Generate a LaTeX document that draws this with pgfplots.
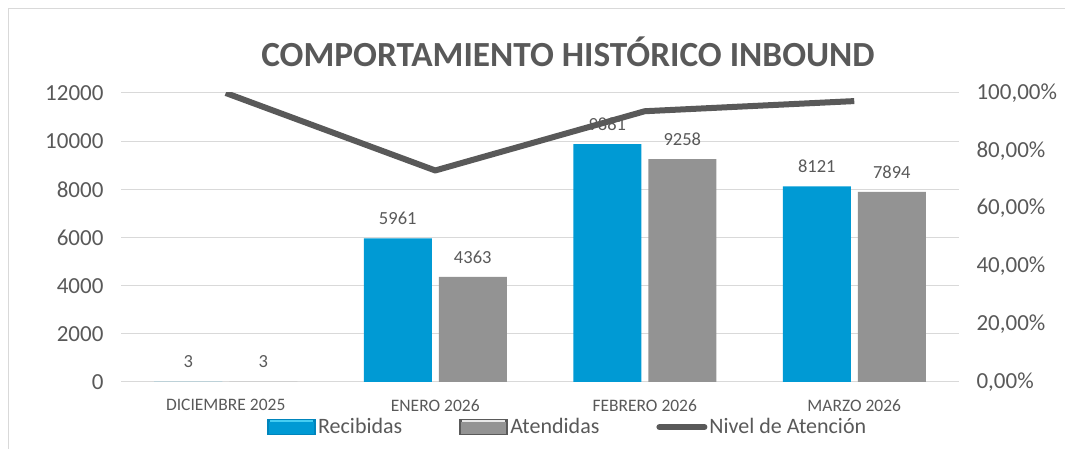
\documentclass[border=0pt]{standalone}
\usepackage{fontspec}
\setmainfont{Carlito}
\usepackage{pgfplots}
\pgfplotsset{compat=1.18}

\definecolor{txt}{HTML}{595959}
\definecolor{grd}{HTML}{D9D9D9}
\definecolor{blueA}{HTML}{009AD4}
\definecolor{blueD}{HTML}{0085BC}
\definecolor{blueT}{HTML}{45CDF2}
\definecolor{grayA}{HTML}{939393}
\definecolor{grayD}{HTML}{5A5A5A}
\definecolor{grayT}{HTML}{E8E8E8}
\definecolor{lineC}{HTML}{595959}

\pgfplotstableread{
x rec ate
0 3 3
1 5961 4363
2 9881 9258
3 8121 7894
}\vol

\pgfplotstableread{
x niv
0 1.0
1 0.7319
2 0.9369
3 0.9720
}\nivel

\pgfplotsset{
  base/.style={
    scale only axis, width=838pt, height=289pt,
    at={(121pt,67pt)}, anchor=south west,
    xmin=-0.5, xmax=3.5,
    axis line style={draw=none},
    major tick length=0pt,
    tick label style={font=\fontsize{23}{27}\selectfont, text=txt},
    /pgf/number format/assume math mode=true,
  },
}

\begin{document}
\begin{tikzpicture}
\useasboundingbox (0,0) rectangle (1065pt,449pt);
\draw[grd, line width=1pt] (8pt,0pt) -- (8pt,440pt) -- (1065pt,440pt);

\begin{axis}[base,
  ymin=0, ymax=12000, ytick={0,2000,...,12000},
  scaled y ticks=false,
  ymajorgrids, grid style={grd, line width=1pt},
  yticklabel style={xshift=-14pt},
  /pgf/number format/1000 sep={},
  xtick={0,1,2,3},
  xticklabels={DICIEMBRE 2025, ENERO 2026, FEBRERO 2026, MARZO 2026},
  xticklabel style={font=\fontsize{17.5}{20}\selectfont, text=txt, yshift=-14pt},
  ybar, bar width=68pt,
  nodes near coords,
  every node near coord/.append style={font=\fontsize{18.5}{22}\selectfont, text=txt, anchor=center, yshift=20pt},
  legend style={draw=none, fill=none, at={(0.533,-0.156)}, anchor=center,
    font=\fontsize{22}{26}\selectfont, text=txt,
    /tikz/every even column/.append style={column sep=55pt},
    inner sep=0pt},
  legend columns=3,
]
\addplot[bar shift=-37.5pt, draw=none, fill=blueA,
  legend image code/.code={\fill[blueD] (0pt,-8pt) rectangle (49pt,8pt); \fill[blueA] (2pt,-7pt) rectangle (47pt,5pt); \fill[blueT] (3pt,5pt) rectangle (46pt,7pt);}]
  table[x=x, y=rec] {\vol};
\addlegendentry{Recibidas}
\addplot[bar shift=37.5pt, draw=none, fill=grayA,
  legend image code/.code={\fill[grayD] (0pt,-8pt) rectangle (49pt,8pt); \fill[grayA] (2pt,-7pt) rectangle (47pt,5pt); \fill[grayT] (3pt,5pt) rectangle (46pt,7pt);}]
  table[x=x, y=ate] {\vol};
\addlegendentry{Atendidas}
\addlegendimage{lineC, line width=6pt, legend image code/.code={\draw[lineC, line width=6pt, line cap=round] (3pt,0pt) -- (48pt,0pt);}}
\addlegendentry{Nivel de Atención}
\end{axis}

\begin{axis}[base,
  ymin=0, ymax=1, axis y line*=right, axis x line=none,
  ytick={0,0.2,0.4,0.6,0.8,1},
  yticklabels={{0,00\%},{20,00\%},{40,00\%},{60,00\%},{80,00\%},{100,00\%}},
  yticklabel style={xshift=14pt, anchor=west},
]
\addplot[lineC, line width=6pt, line join=round, mark=none] table[x=x, y=niv] {\nivel};
\end{axis}

\node[font=\bfseries\fontsize{35.3}{40}\selectfont, text=txt] at (568pt,397pt) {COMPORTAMIENTO HISTÓRICO INBOUND};
\end{tikzpicture}
\end{document}
